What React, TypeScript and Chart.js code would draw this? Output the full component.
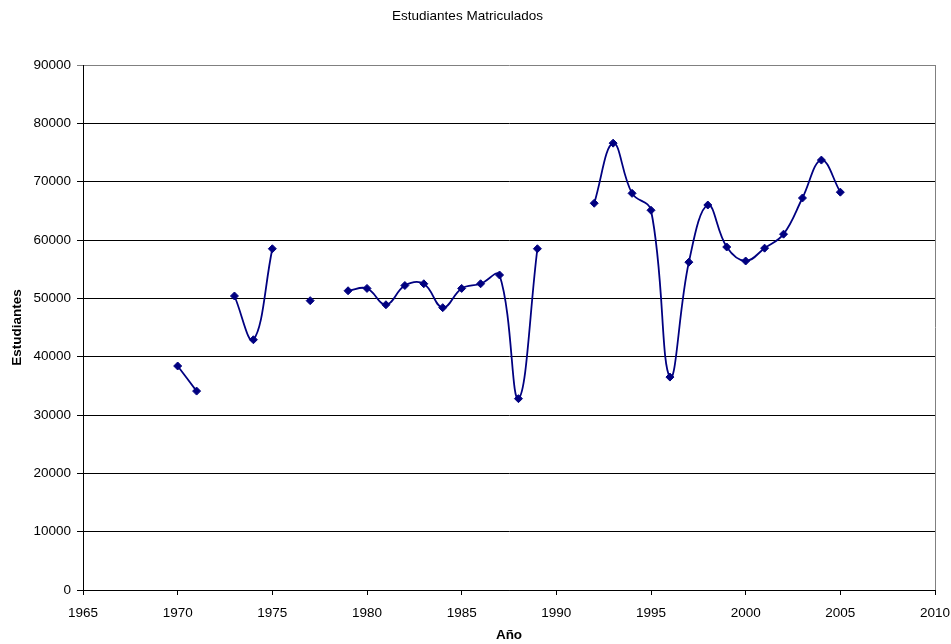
import React, { useEffect, useRef } from "react";
import { Chart, registerables } from "chart.js";

Chart.register(...registerables);

const TITLE = "Estudiantes Matriculados";
const X_TITLE = "Año";
const Y_TITLE = "Estudiantes";

const years = [
  1970, 1971, 1972, 1973, 1974, 1975, 1976, 1977, 1978, 1979, 1980, 1981,
  1982, 1983, 1984, 1985, 1986, 1987, 1988, 1989, 1990, 1991, 1992, 1993,
  1994, 1995, 1996, 1997, 1998, 1999, 2000, 2001, 2002, 2003, 2004, 2005,
];

const students: (number | null)[] = [
  38400, 34100, null, 50400, 42900, 58500, null, 49600, null, 51300, 51700,
  48900, 52200, 52500, 48400, 51700, 52500, 54000, 32800, 58500, null, null,
  66300, 76600, 68000, 65100, 36500, 56200, 66000, 58800, 56400, 58600, 61000,
  67200, 73700, 68200,
];

const X_MIN = 1965;
const X_MAX = 2010;
const X_STEP = 5;
const Y_MIN = 0;
const Y_MAX = 90000;
const Y_STEP = 10000;

const FONT = "'Liberation Sans', Arial, sans-serif";

export default function App() {
  const ref = useRef<HTMLCanvasElement | null>(null);

  useEffect(() => {
    if (!ref.current) return;
    const borderPlugin = {
      id: "rightBorder",
      afterDraw(chart: any) {
        const { ctx, chartArea } = chart;
        ctx.save();
        ctx.strokeStyle = "#808080";
        ctx.lineWidth = 1;
        ctx.beginPath();
        ctx.moveTo(chartArea.right + 0.5, chartArea.top);
        ctx.lineTo(chartArea.right + 0.5, chartArea.bottom);
        ctx.stroke();
        ctx.restore();
      },
    };
    const chart = new Chart(ref.current, {
      type: "line",
      data: {
        datasets: [
          {
            label: Y_TITLE,
            data: years.map((x, i) => ({ x, y: students[i] })) as any,
            borderColor: "#000080",
            backgroundColor: "#000080",
            borderWidth: 1.8,
            pointStyle: "rectRot",
            pointRadius: 4,
            pointBackgroundColor: "#000080",
            pointBorderColor: "#000080",
            pointBorderWidth: 1,
            tension: 0.4,
            spanGaps: false,
            fill: false,
          },
        ],
      },
      options: {
        animation: false,
        responsive: true,
        maintainAspectRatio: false,
        layout: { padding: { left: 0, right: 16, top: 0, bottom: 0 } },
        plugins: {
          legend: { display: false },
          tooltip: { enabled: false },
          title: {
            display: true,
            text: TITLE,
            color: "#000",
            font: { family: FONT, size: 13.5, weight: "normal" },
            padding: { top: 8.4, bottom: 40.4 },
          },
        },
        scales: {
          x: {
            type: "linear",
            min: X_MIN,
            max: X_MAX,
            afterFit: (s: any) => {
              s.height = 54;
              s.paddingLeft = 0;
              s.paddingRight = 0;
            },
            ticks: {
              stepSize: X_STEP,
              color: "#000",
              font: { family: FONT, size: 13.5 },
              padding: 10,
              maxRotation: 0,
              callback: (v: any) => String(v),
            },
            grid: {
              drawOnChartArea: false,
              drawTicks: true,
              tickLength: 5,
              color: "#000",
            },
            border: { color: "#000", width: 1 },
            title: {
              display: true,
              text: X_TITLE,
              color: "#000",
              font: { family: FONT, size: 13.5, weight: "bold" },
              padding: { top: 0, bottom: 1 },
            },
          },
          y: {
            min: Y_MIN,
            max: Y_MAX,
            afterFit: (s: any) => {
              s.width = 83;
            },
            ticks: {
              stepSize: Y_STEP,
              color: "#000",
              font: { family: FONT, size: 13.5 },
              padding: 6,
              callback: (v: any) => String(v),
            },
            grid: {
              drawTicks: true,
              tickLength: 6,
              color: (c: any) => (c.tick && c.tick.value === Y_MAX ? "#808080" : "#000"),
              lineWidth: 1,
            },
            border: { color: "#000", width: 1 },
            title: {
              display: true,
              text: Y_TITLE,
              color: "#000",
              font: { family: FONT, size: 13.5, weight: "bold" },
              padding: { top: 9, bottom: 9 },
            },
          },
        },
      },
      plugins: [borderPlugin],
    });
    return () => chart.destroy();
  }, []);

  return (
    <div
      style={{
        position: "fixed",
        left: 0,
        top: 0,
        width: 951,
        height: 644,
        background: "#fff",
      }}
    >
      <canvas ref={ref} />
    </div>
  );
}
